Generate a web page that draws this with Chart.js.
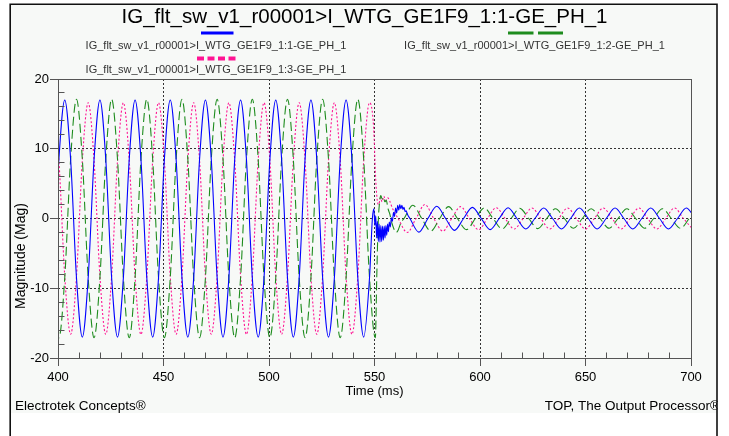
<!DOCTYPE html>
<html><head><meta charset="utf-8">
<script src="https://cdn.jsdelivr.net/npm/chart.js@4.4.0/dist/chart.umd.min.js"></script>
<style>html,body{margin:0;padding:0;background:#fff;overflow:hidden}#wrap{width:729px;height:436px}</style>
</head><body>
<div id="wrap"><canvas id="c" width="729" height="436"></canvas></div>
<script>
const titleText = 'IG_flt_sw_v1_r00001>I_WTG_GE1F9_1:1-GE_PH_1';
const seriesNames = [
  'IG_flt_sw_v1_r00001>I_WTG_GE1F9_1:1-GE_PH_1',
  'IG_flt_sw_v1_r00001>I_WTG_GE1F9_1:2-GE_PH_1',
  'IG_flt_sw_v1_r00001>I_WTG_GE1F9_1:3-GE_PH_1'
];
const seriesColors = ['#0000ff', '#1e8c1e', '#ff1493'];
const xTitle = 'Time (ms)';
const yTitle = 'Magnitude (Mag)';
const footLeft = 'Electrotek Concepts®';
const footRight = 'TOP, The Output Processor®';
const xTicks = [400, 450, 500, 550, 600, 650, 700];
const yTicks = [-20, -10, 0, 10, 20];

// pre-switching samples (ms) shared by the three phases
const preT = [
  397.64, 400.42,
  403.20, 405.98, 408.76, 411.53, 414.31, 417.09,
  419.87, 422.64, 425.42, 428.20, 430.98, 433.76,
  436.53, 439.31, 442.09, 444.87, 447.64, 450.42,
  453.20, 455.98, 458.76, 461.53, 464.31, 467.09,
  469.87, 472.64, 475.42, 478.20, 480.98, 483.76,
  486.53, 489.31, 492.09, 494.87, 497.64, 500.42,
  503.20, 505.98, 508.76, 511.53, 514.31, 517.09,
  519.87, 522.64, 525.42, 528.20, 530.98, 533.76,
  536.53, 539.31, 542.09, 544.87, 547.64
];
const bluePre = [
  -8.5, 8.5,
  17.0, 8.5, -8.5, -17.0, -8.5, 8.5,
  17.0, 8.5, -8.5, -17.0, -8.5, 8.5,
  17.0, 8.5, -8.5, -17.0, -8.5, 8.5,
  17.0, 8.5, -8.5, -17.0, -8.5, 8.5,
  17.0, 8.5, -8.5, -17.0, -8.5, 8.5,
  17.0, 8.5, -8.5, -17.0, -8.5, 8.5,
  17.0, 8.5, -8.5, -17.0, -8.5, 8.5,
  17.0, 8.5, -8.5, -17.0, -8.5, 8.5,
  17.0, 8.5, -8.5, -17.0, -8.5
];
const greenPre = [
  -8.5, -17.1,
  -8.5, 8.5, 17.1, 8.5, -8.5, -17.1,
  -8.5, 8.5, 17.1, 8.5, -8.5, -17.1,
  -8.5, 8.5, 17.1, 8.5, -8.5, -17.1,
  -8.5, 8.5, 17.1, 8.5, -8.5, -17.1,
  -8.5, 8.5, 17.1, 8.5, -8.5, -17.1,
  -8.5, 8.5, 17.1, 8.5, -8.5, -17.1,
  -8.5, 8.5, 17.1, 8.5, -8.5, -17.1,
  -8.5, 8.5, 17.1, 8.5, -8.5, -17.1,
  -8.5, 8.5, 17.1, 8.5, -8.5
];
const pinkPre = [
  16.6, 8.3,
  -8.3, -16.6, -8.3, 8.3, 16.6, 8.3,
  -8.3, -16.6, -8.3, 8.3, 16.6, 8.3,
  -8.3, -16.6, -8.3, 8.3, 16.6, 8.3,
  -8.3, -16.6, -8.3, 8.3, 16.6, 8.3,
  -8.3, -16.6, -8.3, 8.3, 16.6, 8.3,
  -8.3, -16.6, -8.3, 8.3, 16.6, 8.3,
  -8.3, -16.6, -8.3, 8.3, 16.6, 8.3,
  -8.3, -16.6, -8.3, 8.3, 16.6, 8.3,
  -8.3, -16.6, -8.3, 8.3, 16.6
];

// post-switching samples, per phase
const bluePostT = [
  549.0, 549.7, 550.2, 550.6, 551.0, 551.4, 551.8, 552.2, 552.6, 553.0,
  553.4, 553.8, 554.2, 554.6, 555.0, 555.4, 555.8, 556.2, 556.6, 557.0,
  557.5, 558.0, 558.5, 559.0, 559.5, 560.0, 560.5, 561.0, 561.5, 562.0,
  562.5, 563.0, 563.5, 564.0, 564.5, 565.0, 565.6, 566.8,
  571.0, 575.3, 579.5, 583.7, 587.9, 592.2, 596.4, 600.6, 604.8, 609.1,
  613.3, 617.5, 621.7, 626.0, 630.2, 634.4, 638.6, 642.9, 647.1, 651.3,
  655.5, 659.8, 664.0, 668.2, 672.4, 676.7, 680.9, 685.1, 689.3, 693.6,
  697.8, 702.0
];
const bluePostV = [
  0.0, 1.4, -1.0, 0.4, -2.8, -0.4, -3.3, -0.8, -3.4, -1.0,
  -3.3, -1.1, -3.1, -1.1, -2.8, -1.0, -2.4, -0.8, -1.9, -0.5,
  -1.2, 0.1, -0.4, 0.9, 0.3, 1.5, 0.8, 1.9, 1.2, 2.0,
  1.4, 1.9, 1.3, 1.6, 1.0, 1.1, 0.6, 0.0,
  -1.95, 0.0, 1.75, 0.0, -1.7, 0.0, 1.6, 0.0, -1.6, 0.0,
  1.55, 0.0, -1.5, 0.0, 1.5, 0.0, -1.5, 0.0, 1.5, 0.0,
  -1.5, 0.0, 1.5, 0.0, -1.5, 0.0, 1.5, 0.0, -1.5, 0.0,
  1.5, 0.0
];
const greenPostT = [
  550.4, 551.1, 551.7, 552.3, 553.0, 553.6, 554.2, 554.9, 555.6, 556.4,
  557.3, 558.2, 559.2, 560.3, 561.3, 562.5, 564.0,
  568.2, 572.4, 576.7, 580.9, 585.1, 589.3, 593.6, 597.8, 602.0, 606.2,
  610.5, 614.7, 618.9, 623.1, 627.4, 631.6, 635.8, 640.0, 644.3, 648.5,
  652.7, 656.9, 661.2, 665.4, 669.6, 673.8, 678.1, 682.3, 686.5, 690.7,
  695.0, 699.2, 703.4
];
const greenPostV = [
  -17.1, -8.0, -1.0, 2.0, 3.3, 2.8, 3.1, 2.4, 2.6, 1.4,
  0.6, -0.6, -1.5, -2.0, -1.6, -0.6, 0.0,
  1.9, 0.0, -1.8, 0.0, 1.7, 0.0, -1.6, 0.0, 1.5, 0.0,
  -1.5, 0.0, 1.45, 0.0, -1.45, 0.0, 1.4, 0.0, -1.4, 0.0,
  1.4, 0.0, -1.4, 0.0, 1.4, 0.0, -1.4, 0.0, 1.4, 0.0,
  -1.4, 0.0, 1.4
];
const pinkPostT = [
  549.6, 550.5, 551.3, 552.0, 552.8, 553.6, 554.4, 555.3, 556.2, 557.2,
  558.6, 561.2,
  565.5, 569.7, 573.9, 578.1, 582.4, 586.6, 590.8, 595.0, 599.3, 603.5,
  607.7, 611.9, 616.2, 620.4, 624.6, 628.8, 633.1, 637.3, 641.5, 645.7,
  650.0, 654.2, 658.4, 662.6, 666.9, 671.1, 675.3, 679.5, 683.8, 688.0,
  692.2, 696.4, 700.7
];
const pinkPostV = [
  13.0, 6.0, 2.6, 2.0, 3.0, 2.4, 3.2, 2.6, 3.0, 2.5,
  1.4, 0.0,
  -2.0, 0.0, 2.0, 0.0, -1.8, 0.0, 1.7, 0.0, -1.6, 0.0,
  1.55, 0.0, -1.5, 0.0, 1.5, 0.0, -1.5, 0.0, 1.5, 0.0,
  -1.5, 0.0, 1.5, 0.0, -1.5, 0.0, 1.5, 0.0, -1.5, 0.0,
  1.5, 0.0, -1.5
];

const FONT = 'Liberation Sans, Arial, Helvetica, sans-serif';
const AXIS = '#555555';
const toPts = (ts, vs) => ts.map((t, i) => ({ x: t, y: vs[i] }));

function al(p) { return Math.round(p - 0.5) + 0.5; }

const deco = {
  id: 'deco',
  beforeDraw(chart) {
    const c = chart.ctx;
    c.save();
    c.fillStyle = '#ffffff'; c.fillRect(0, 0, 729, 436);
    c.fillStyle = '#f7f9f7'; c.fillRect(10, 4, 707, 409);
    c.restore();
  },
  afterDatasetsDraw(chart) {
    const c = chart.ctx, a = chart.chartArea;
    const xs = chart.scales.x, ys = chart.scales.y;
    c.save();
    c.strokeStyle = AXIS; c.lineWidth = 1; c.setLineDash([]);
    const L = al(a.left), R = al(a.right), T = al(a.top), B = al(a.bottom);
    c.strokeRect(L, T, R - L, B - T);
    c.beginPath();
    for (let v = 410; v < 700; v += 10) {
      if (v % 50 === 0) continue;
      const px = al(xs.getPixelForValue(v));
      c.moveTo(px, B); c.lineTo(px, B - 6);
    }
    for (let v = -18; v < 20; v += 2) {
      if (v % 10 === 0) continue;
      const py = al(ys.getPixelForValue(v));
      c.moveTo(L, py); c.lineTo(L + 6, py);
    }
    c.stroke();
    c.restore();
  },
  afterDraw(chart) {
    const c = chart.ctx, a = chart.chartArea;
    c.save();
    // title
    c.fillStyle = '#000'; c.textAlign = 'center'; c.textBaseline = 'alphabetic';
    c.font = '20.5px ' + FONT;
    c.fillText(titleText, 364.5, 22.5);
    // legend samples
    c.setLineDash([]);
    c.lineCap = 'butt';
    c.strokeStyle = seriesColors[0]; c.lineWidth = 3;
    c.beginPath(); c.moveTo(201, 33); c.lineTo(233.5, 33); c.stroke();
    c.strokeStyle = seriesColors[1];
    c.beginPath(); c.moveTo(508, 33); c.lineTo(533.5, 33); c.moveTo(538, 33); c.lineTo(563, 33); c.stroke();
    c.strokeStyle = seriesColors[2]; c.lineWidth = 4;
    c.beginPath();
    [197, 207.5, 218, 228.5].forEach(x0 => { c.moveTo(x0, 58.5); c.lineTo(x0 + 7, 58.5); });
    c.stroke();
    // legend labels
    c.fillStyle = '#333'; c.font = '11px ' + FONT;
    c.fillText(seriesNames[0], 216, 49);
    c.fillText(seriesNames[1], 534.5, 49);
    c.fillText(seriesNames[2], 216, 72.5);
    // axis titles
    c.fillStyle = '#000';
    c.font = '13px ' + FONT;
    c.fillText(xTitle, (a.left + a.right) / 2, 395);
    c.save();
    c.translate(21.5, 256); c.rotate(-Math.PI / 2);
    c.font = '14px ' + FONT; c.textBaseline = 'middle';
    c.fillText(yTitle, 0, 0);
    c.restore();
    // footers
    c.font = '13.5px ' + FONT; c.textBaseline = 'alphabetic';
    c.textAlign = 'left'; c.fillText(footLeft, 15, 409.5);
    c.textAlign = 'right'; c.fillText(footRight, 720, 409.5);
    c.fillStyle = '#fff'; c.fillRect(717.8, 0, 12, 436);
    // frame
    c.strokeStyle = '#111'; c.lineWidth = 1.6;
    c.beginPath();
    c.moveTo(10.2, 436); c.lineTo(10.2, 4.2); c.lineTo(717, 4.2); c.lineTo(717, 436);
    c.stroke();
    c.restore();
  }
};

const edgeX = v => v === 400 || v === 700;
const edgeY = v => v === -20 || v === 20;

new Chart(document.getElementById('c'), {
  type: 'line',
  data: {
    datasets: [
      { label: seriesNames[0], data: toPts(preT, bluePre).concat(toPts(bluePostT, bluePostV)),
        borderColor: seriesColors[0], borderWidth: 1.1 },
      { label: seriesNames[1], data: toPts(preT, greenPre).concat(toPts(greenPostT, greenPostV)),
        borderColor: seriesColors[1], borderWidth: 1.1, borderDash: [9, 4] },
      { label: seriesNames[2], data: toPts(preT, pinkPre).concat(toPts(pinkPostT, pinkPostV)),
        borderColor: seriesColors[2], borderWidth: 1.1, borderDash: [2, 2] }
    ]
  },
  options: {
    responsive: false, animation: false, devicePixelRatio: 1,
    layout: { padding: { left: 0, right: 38, top: 79, bottom: 48 } },
    elements: { point: { radius: 0 }, line: { cubicInterpolationMode: 'monotone', fill: false } },
    plugins: { legend: { display: false }, title: { display: false }, tooltip: { enabled: false } },
    scales: {
      x: {
        type: 'linear', min: 400, max: 700,
        afterBuildTicks: s => { s.ticks = xTicks.map(v => ({ value: v })); },
        afterFit: s => { s.height = 30; },
        grid: { color: ctx => (ctx.tick && edgeX(ctx.tick.value)) ? 'rgba(0,0,0,0)' : '#333333',
                lineWidth: 1, tickLength: 8, tickColor: AXIS, drawTicks: true },
        border: { display: false, dash: [2, 2] },
        ticks: { font: { family: FONT, size: 13 }, color: '#000', padding: 4, maxRotation: 0, autoSkip: false }
      },
      y: {
        type: 'linear', min: -20, max: 20,
        afterBuildTicks: s => { s.ticks = yTicks.map(v => ({ value: v })); },
        afterFit: s => { s.width = 58; },
        grid: { color: ctx => (ctx.tick && edgeY(ctx.tick.value)) ? 'rgba(0,0,0,0)' : '#333333',
                lineWidth: 1, tickLength: 8, tickColor: AXIS, drawTicks: true },
        border: { display: false, dash: [2, 2] },
        ticks: { font: { family: FONT, size: 13 }, color: '#000', padding: 1 }
      }
    }
  },
  plugins: [deco]
});
</script>
</body></html>
